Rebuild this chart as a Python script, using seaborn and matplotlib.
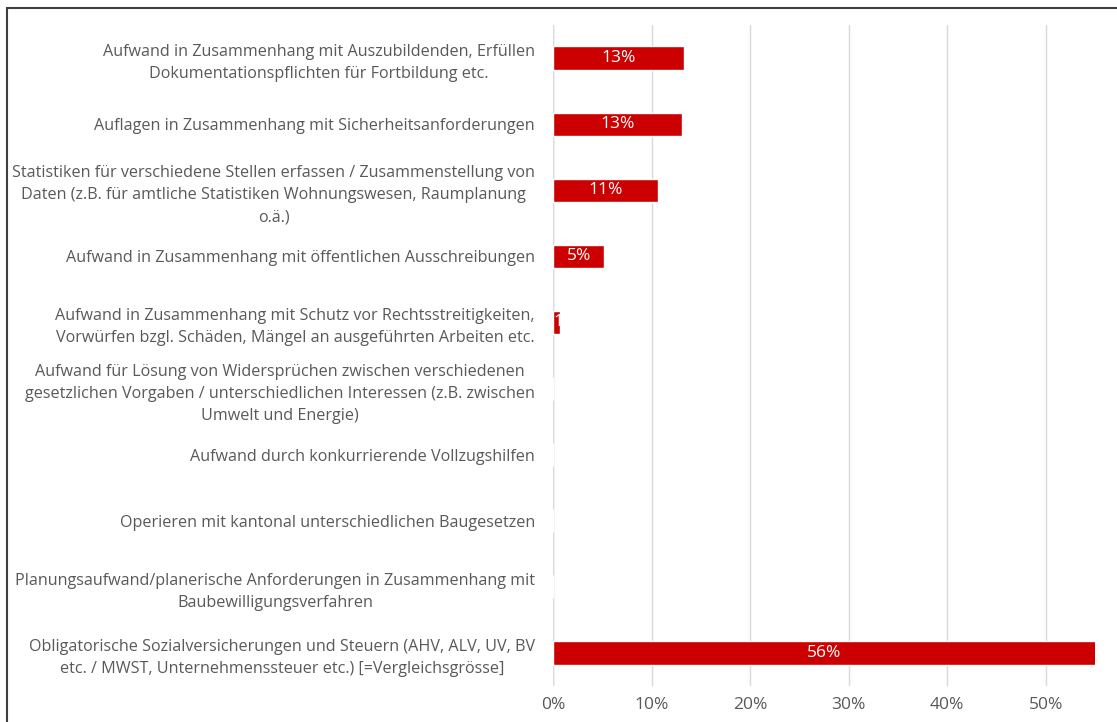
import matplotlib
matplotlib.use("Agg")
import matplotlib.pyplot as plt
import seaborn as sns
import pandas as pd
from matplotlib.patches import Rectangle
from matplotlib.ticker import PercentFormatter

# Daten
kategorien = [
    "Aufwand in Zusammenhang mit Auszubildenden, Erfüllen\nDokumentationspflichten für Fortbildung etc.",
    "Auflagen in Zusammenhang mit Sicherheitsanforderungen",
    "Statistiken für verschiedene Stellen erfassen / Zusammenstellung von\nDaten (z.B. für amtliche Statistiken Wohnungswesen, Raumplanung\no.ä.)",
    "Aufwand in Zusammenhang mit öffentlichen Ausschreibungen",
    "Aufwand in Zusammenhang mit Schutz vor Rechtsstreitigkeiten,\nVorwürfen bzgl. Schäden, Mängel an ausgeführten Arbeiten etc.",
    "Aufwand für Lösung von Widersprüchen zwischen verschiedenen\ngesetzlichen Vorgaben / unterschiedlichen Interessen (z.B. zwischen\nUmwelt und Energie)",
    "Aufwand durch konkurrierende Vollzugshilfen",
    "Operieren mit kantonal unterschiedlichen Baugesetzen",
    "Planungsaufwand/planerische Anforderungen in Zusammenhang mit\nBaubewilligungsverfahren",
    "Obligatorische Sozialversicherungen und Steuern (AHV, ALV, UV, BV\netc. / MWST, Unternehmenssteuer etc.) [=Vergleichsgrösse]",
]
anteile = [0.133, 0.131, 0.107, 0.052, 0.007, 0.0, 0.0, 0.0, 0.0, 0.56]
beschriftung = ["13%", "13%", "11%", "5%", "1", "", "", "", "", "56%"]

X_MAX = 0.55
ROT = "#CC0000"
GRAU = "#595959"

sns.set_theme(style="white")
plt.rcParams["font.family"] = ["Open Sans", "DejaVu Sans"]

df = pd.DataFrame({"kategorie": kategorien, "anteil": anteile})

fig = plt.figure(figsize=(11.17, 7.22), dpi=100)
ax = fig.add_axes([553 / 1117, 1 - 686 / 722, (1095 - 553) / 1117, (686 - 25) / 722])

sns.barplot(data=df, x="anteil", y="kategorie", color=ROT, width=0.35,
            saturation=1, orient="h", ax=ax, zorder=3)

ax.set_xlim(0, X_MAX)
ax.set_xticks([0, 0.1, 0.2, 0.3, 0.4, 0.5])
ax.xaxis.set_major_formatter(PercentFormatter(1.0, decimals=0))
ax.set_xlabel("")
ax.set_ylabel("")
ax.grid(axis="x", color="#D9D9D9", linewidth=1, zorder=0)
ax.grid(axis="y", visible=False)
for s in ax.spines.values():
    s.set_visible(False)
ax.axvline(0, color="#D9D9D9", linewidth=1, zorder=1)

ax.tick_params(axis="x", length=0, pad=8, labelsize=12.5, labelcolor=GRAU)
ax.tick_params(axis="y", length=0, pad=13, labelsize=11.6, labelcolor=GRAU)
for lbl in ax.get_yticklabels():
    lbl.set_multialignment("center")
    lbl.set_linespacing(1.5)

# Werte in den Balken (Mitte des sichtbaren Teils)
for i, (v, txt) in enumerate(zip(anteile, beschriftung)):
    if v <= 0:
        continue
    if v < 0.02:
        ax.text(0.0002, i, txt, ha="left", va="center",
                color="white", fontsize=12.5, zorder=4)
    else:
        ax.text(min(v, X_MAX) / 2, i, txt, ha="center", va="center",
                color="white", fontsize=12.5, zorder=4)

# Rahmen um die Grafik
fig.patches.append(Rectangle((7 / 1117, -0.1), 1.2, 1 - 8 / 722 + 0.1,
                             transform=fig.transFigure, fill=False,
                             edgecolor="#404040", linewidth=1.5))

fig.savefig("out.png", dpi=100)
